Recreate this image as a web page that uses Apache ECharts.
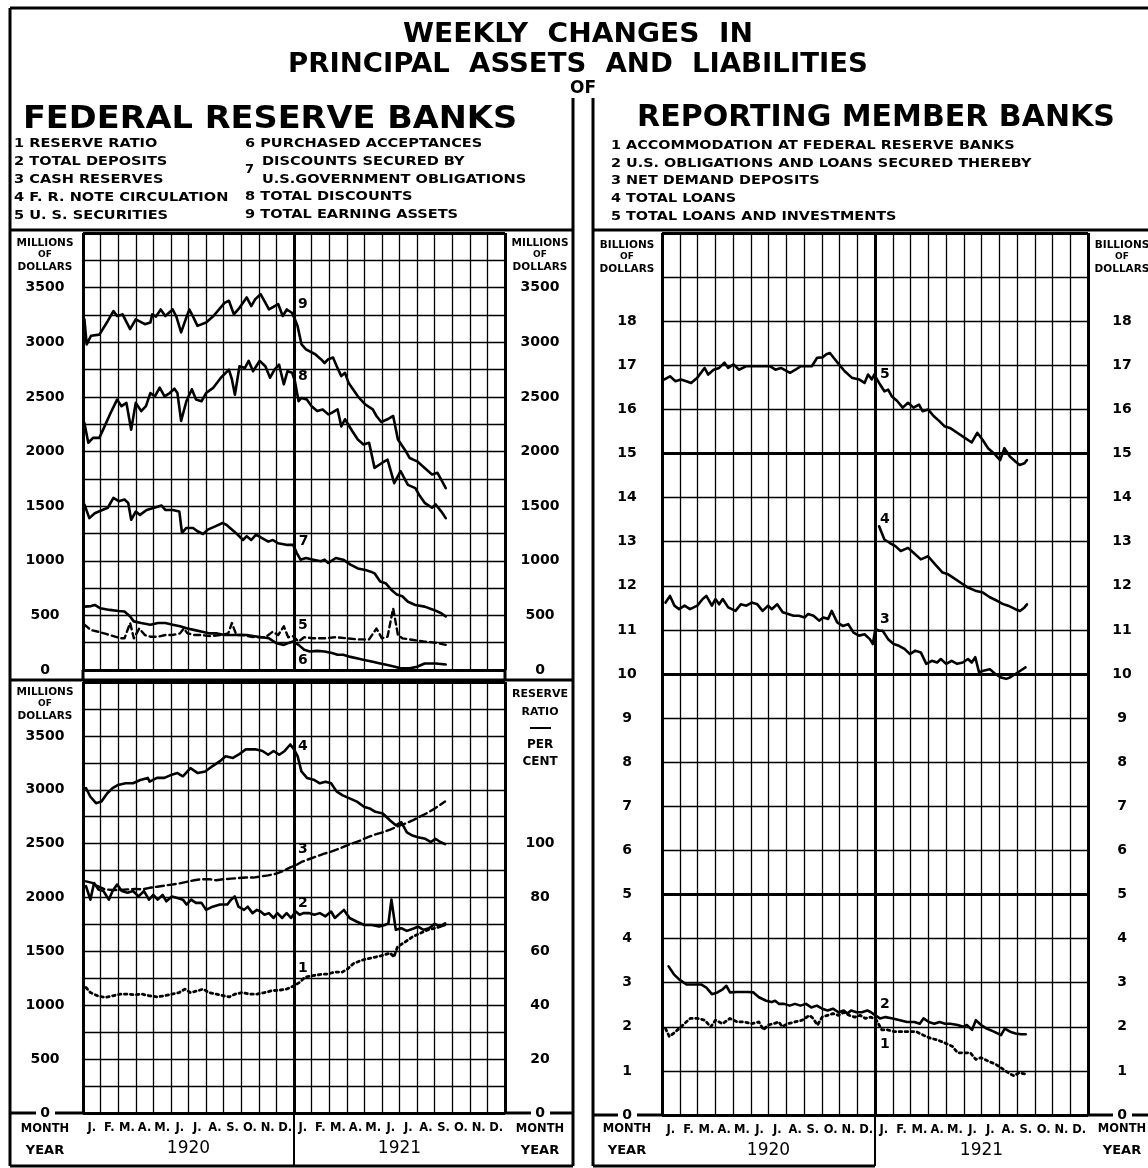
<!DOCTYPE html>
<html>
<head>
<meta charset="utf-8">
<script src="https://cdn.jsdelivr.net/npm/echarts@6/dist/echarts.min.js"></script>
<style>
  html, body { margin: 0; padding: 0; background: #fff; }
  #chart { width: 1148px; height: 1168px; }
</style>
</head>
<body>
<div id="chart"></div>
<script>
  // x = months since 1 Jan 1920 (weekly statements), y = value
  // Federal Reserve Banks, millions of dollars
  const frbEarningAssets = [[0.08,3210],[0.21,2980],[0.46,3060],[0.93,3070],[1.41,3195],[1.73,3285],[1.94,3240],[2.25,3255],[2.68,3120],[3.0,3210],[3.52,3165],[3.83,3180],[3.94,3255],[4.15,3235],[4.42,3300],[4.68,3240],[5.1,3300],[5.31,3235],[5.58,3090],[5.84,3210],[6.05,3300],[6.26,3235],[6.51,3150],[7.0,3180],[7.42,3240],[8.05,3360],[8.3,3380],[8.58,3255],[8.9,3315],[9.31,3410],[9.57,3330],[9.8,3395],[10.1,3440],[10.58,3300],[11.1,3350],[11.36,3240],[11.59,3300],[11.88,3270],[12.05,3210],[12.2,3150],[12.43,2980],[12.68,2935],[13.21,2890],[13.53,2845],[13.74,2810],[13.95,2845],[14.22,2860],[14.43,2780],[14.69,2690],[14.9,2720],[15.1,2630],[15.63,2505],[16.06,2430],[16.48,2385],[16.69,2325],[16.96,2270],[17.32,2295],[17.64,2325],[17.91,2110],[18.37,2000],[18.58,1940],[19.0,1910],[19.32,1865],[19.85,1790],[20.16,1805],[20.38,1740],[20.63,1665]];
  const frbTotalDiscounts = [[0.08,2260],[0.3,2080],[0.57,2125],[0.93,2125],[1.31,2260],[1.62,2370],[1.94,2475],[2.19,2415],[2.47,2445],[2.74,2200],[3.0,2445],[3.31,2370],[3.58,2415],[3.83,2535],[4.09,2505],[4.36,2585],[4.64,2505],[4.93,2535],[5.2,2575],[5.37,2535],[5.58,2280],[5.88,2460],[6.19,2570],[6.43,2475],[6.74,2460],[7.0,2535],[7.42,2585],[7.84,2675],[8.3,2750],[8.47,2660],[8.64,2520],[8.9,2780],[9.21,2765],[9.42,2830],[9.67,2735],[10.05,2830],[10.37,2780],[10.64,2675],[10.89,2750],[11.15,2795],[11.42,2615],[11.63,2735],[11.9,2720],[12.05,2645],[12.26,2460],[12.43,2490],[12.73,2475],[13.0,2415],[13.32,2370],[13.63,2385],[13.95,2340],[14.16,2355],[14.48,2385],[14.69,2230],[14.9,2295],[15.32,2185],[15.63,2110],[15.95,2065],[16.27,2080],[16.58,1850],[17.0,1895],[17.32,1925],[17.7,1710],[18.06,1820],[18.48,1695],[18.9,1665],[19.11,1605],[19.43,1530],[19.85,1485],[20.06,1515],[20.38,1450],[20.63,1390]];
  const frbGovtSecuredDiscounts = [[0.08,1515],[0.36,1390],[0.67,1435],[1.1,1465],[1.41,1485],[1.73,1575],[2.04,1545],[2.36,1560],[2.57,1530],[2.74,1375],[3.0,1450],[3.24,1420],[3.62,1465],[4.05,1485],[4.47,1505],[4.68,1465],[5.1,1465],[5.48,1450],[5.63,1255],[5.88,1300],[6.26,1300],[6.51,1270],[6.83,1245],[7.1,1285],[7.52,1315],[7.94,1345],[8.15,1330],[8.58,1270],[8.79,1240],[9.1,1190],[9.31,1225],[9.57,1190],[9.84,1240],[10.16,1210],[10.54,1175],[10.79,1190],[11.1,1160],[11.63,1145],[11.95,1145],[12.16,1070],[12.37,1010],[12.68,1025],[13.1,1010],[13.53,995],[13.74,1010],[13.95,980],[14.38,1025],[14.8,1010],[15.21,965],[15.63,930],[16.06,915],[16.37,900],[16.58,885],[16.9,810],[17.21,795],[17.53,735],[17.85,690],[18.16,675],[18.48,625],[18.9,595],[19.43,580],[19.95,550],[20.38,520],[20.63,490]];
  const frbAcceptances = [[0.08,580],[0.46,585],[0.67,595],[0.99,565],[1.52,550],[2.04,540],[2.36,535],[2.68,490],[2.89,445],[3.31,430],[3.83,415],[4.26,430],[4.68,430],[5.1,415],[5.52,400],[5.94,380],[6.36,365],[6.78,350],[7.21,335],[7.63,335],[8.05,320],[8.47,320],[8.89,320],[9.31,320],[9.95,305],[10.58,290],[11.0,245],[11.42,230],[11.63,245],[11.95,260],[12.26,230],[12.58,185],[12.9,170],[13.32,175],[13.74,170],[14.16,155],[14.48,140],[14.8,140],[15.21,120],[15.63,105],[16.06,90],[16.48,75],[16.9,60],[17.32,45],[17.74,30],[18.06,15],[18.58,15],[19.0,30],[19.43,60],[20.06,60],[20.63,50]];
  const frbUsSecurities = [[0.08,415],[0.46,365],[0.88,350],[1.31,330],[1.73,310],[2.15,290],[2.36,290],[2.68,430],[2.89,290],[3.2,380],[3.52,320],[3.83,305],[4.26,305],[4.68,320],[5.1,320],[5.52,335],[5.73,380],[5.94,335],[6.36,320],[6.78,320],[7.21,310],[7.84,320],[8.26,335],[8.47,430],[8.72,320],[9.1,320],[9.52,305],[9.95,300],[10.37,300],[10.79,350],[11.1,320],[11.42,400],[11.67,300],[11.95,310],[12.26,260],[12.58,300],[13.1,290],[13.74,290],[14.38,300],[15.0,290],[15.63,280],[16.27,280],[16.69,380],[17.0,290],[17.32,305],[17.64,565],[17.91,320],[18.16,290],[18.8,275],[19.43,260],[20.06,250],[20.63,230]];
  const frbNoteCirculation = [[0.17,3015],[0.42,2935],[0.74,2875],[1.05,2890],[1.37,2965],[1.68,3015],[2.0,3045],[2.42,3060],[2.84,3060],[3.26,3090],[3.68,3110],[3.79,3075],[4.21,3110],[4.63,3110],[5.05,3140],[5.37,3155],[5.68,3125],[6.11,3200],[6.53,3155],[6.95,3170],[7.37,3220],[7.79,3265],[8.11,3310],[8.53,3295],[8.84,3325],[9.26,3375],[9.79,3375],[10.21,3360],[10.53,3325],[10.84,3360],[11.16,3325],[11.47,3360],[11.79,3420],[12.0,3375],[12.21,3310],[12.42,3170],[12.74,3110],[13.16,3090],[13.47,3060],[13.79,3075],[14.11,3060],[14.42,2985],[14.74,2950],[15.16,2920],[15.58,2890],[16.0,2840],[16.32,2825],[16.63,2795],[17.05,2780],[17.47,2715],[17.79,2670],[18.1,2700],[18.42,2605],[18.74,2575],[19.05,2560],[19.47,2545],[19.79,2515],[20.04,2545],[20.32,2515],[20.59,2495]];
  const frbCashReserves = [[0.17,2150],[0.53,2135],[0.84,2105],[1.26,2075],[1.68,2070],[2.11,2070],[2.53,2075],[2.95,2080],[3.37,2075],[3.79,2090],[4.21,2100],[4.63,2110],[5.05,2120],[5.47,2130],[5.89,2145],[6.32,2160],[6.74,2170],[7.16,2170],[7.58,2160],[8.0,2170],[8.42,2175],[8.84,2180],[9.26,2185],[9.68,2185],[10.1,2195],[10.53,2205],[10.95,2220],[11.37,2245],[11.79,2280],[12.11,2300],[12.42,2330],[12.84,2355],[13.26,2380],[13.68,2405],[14.11,2425],[14.53,2450],[14.95,2480],[15.37,2505],[15.79,2530],[16.21,2560],[16.63,2585],[17.05,2605],[17.47,2630],[17.89,2660],[18.32,2685],[18.74,2715],[19.16,2750],[19.58,2785],[20.0,2825],[20.59,2890]];
  const frbTotalDeposits = [[0.17,2105],[0.42,1980],[0.63,2135],[0.88,2075],[1.16,2060],[1.47,1980],[1.68,2060],[1.94,2120],[2.21,2060],[2.53,2045],[2.84,2060],[3.16,2010],[3.47,2060],[3.75,1980],[4.0,2025],[4.25,1980],[4.53,2025],[4.74,1965],[5.05,2010],[5.37,1995],[5.68,1980],[5.89,1935],[6.15,1980],[6.42,1950],[6.74,1950],[7.0,1885],[7.37,1915],[7.79,1935],[8.21,1935],[8.42,1980],[8.63,2010],[8.84,1915],[9.16,1885],[9.37,1915],[9.64,1855],[9.89,1885],[10.1,1870],[10.32,1840],[10.57,1855],[10.84,1810],[11.05,1855],[11.33,1810],[11.58,1855],[11.83,1810],[12.1,1870],[12.32,1840],[12.53,1855],[12.84,1855],[13.16,1840],[13.47,1855],[13.79,1825],[14.11,1870],[14.32,1810],[14.63,1855],[14.84,1885],[15.16,1810],[15.58,1775],[16.0,1745],[16.42,1745],[16.84,1730],[17.16,1745],[17.37,1760],[17.54,1980],[17.79,1700],[18.1,1715],[18.42,1690],[18.84,1715],[19.05,1730],[19.37,1700],[19.68,1715],[20.0,1755],[20.32,1730],[20.59,1745]];
  // reserve ratio, per cent
  const frbReserveRatio = [[0.17,46.6],[0.42,44.7],[0.84,43.5],[1.26,42.9],[1.68,43.5],[2.11,44.1],[2.53,44.1],[2.95,43.9],[3.37,44.1],[3.79,43.5],[4.21,43.1],[4.63,43.5],[5.05,44.1],[5.47,44.7],[5.79,46.0],[6.11,44.7],[6.53,45.4],[6.84,46.0],[7.16,44.7],[7.58,44.1],[8.0,43.5],[8.32,43.1],[8.63,44.1],[9.05,44.7],[9.47,44.1],[9.89,44.1],[10.32,44.7],[10.74,45.4],[11.16,45.6],[11.58,46.0],[12.0,47.2],[12.32,48.5],[12.63,50.4],[13.05,51.0],[13.47,51.4],[13.89,51.6],[14.32,52.3],[14.74,52.3],[15.05,53.5],[15.37,55.4],[15.79,56.6],[16.21,57.3],[16.63,57.9],[17.05,58.5],[17.47,59.4],[17.68,57.9],[17.89,61.7],[18.32,63.5],[18.74,65.4],[19.16,66.7],[19.58,67.9],[20.0,68.6],[20.32,69.2],[20.59,70.4]];

  // Reporting member banks, billions of dollars
  const rmbLoansInvestments = [[0.14,16.68],[0.45,16.75],[0.76,16.64],[1.06,16.68],[1.37,16.64],[1.64,16.6],[1.99,16.72],[2.4,16.94],[2.6,16.79],[2.91,16.9],[3.22,16.94],[3.52,17.06],[3.73,16.94],[4.03,17.02],[4.34,16.9],[4.75,16.98],[5.16,16.98],[5.57,16.98],[6.08,16.98],[6.39,16.9],[6.7,16.94],[7.21,16.83],[7.52,16.9],[7.82,16.98],[8.44,16.98],[8.74,17.17],[9.05,17.18],[9.26,17.25],[9.46,17.28],[9.67,17.17],[9.97,17.02],[10.28,16.87],[10.69,16.72],[11.1,16.68],[11.41,16.6],[11.61,16.79],[11.82,16.68],[11.96,16.79],[12.23,16.6],[12.53,16.41],[12.74,16.45],[12.94,16.3],[13.25,16.19],[13.56,16.04],[13.86,16.15],[14.17,16.04],[14.48,16.11],[14.68,15.96],[14.99,16.0],[15.3,15.85],[15.61,15.74],[15.91,15.62],[16.22,15.58],[16.63,15.47],[17.04,15.36],[17.45,15.25],[17.76,15.47],[18.06,15.31],[18.37,15.12],[18.78,14.97],[19.05,14.85],[19.29,15.12],[19.6,14.93],[19.91,14.82],[20.15,14.74],[20.42,14.78],[20.56,14.85]];
  const rmbTotalLoans = [[12.23,13.35],[12.53,13.05],[12.84,12.97],[13.15,12.9],[13.45,12.79],[13.86,12.86],[14.17,12.75],[14.58,12.6],[14.99,12.67],[15.4,12.48],[15.81,12.3],[16.12,12.26],[16.42,12.18],[16.83,12.07],[17.24,11.96],[17.65,11.89],[18.06,11.85],[18.47,11.74],[18.88,11.66],[19.19,11.59],[19.5,11.55],[19.91,11.47],[20.17,11.43],[20.42,11.51],[20.56,11.58]];
  const rmbNetDemandDeposits = [[0.2,11.62],[0.45,11.77],[0.7,11.55],[0.96,11.47],[1.27,11.55],[1.58,11.47],[1.99,11.55],[2.29,11.7],[2.5,11.77],[2.81,11.55],[3.01,11.7],[3.22,11.58],[3.42,11.7],[3.73,11.51],[4.14,11.43],[4.44,11.58],[4.75,11.55],[5.06,11.62],[5.37,11.58],[5.67,11.43],[5.98,11.55],[6.18,11.47],[6.49,11.58],[6.8,11.4],[7.11,11.36],[7.41,11.32],[7.72,11.32],[8.03,11.28],[8.23,11.36],[8.54,11.32],[8.85,11.21],[9.09,11.28],[9.36,11.25],[9.56,11.43],[9.87,11.17],[10.18,11.09],[10.49,11.13],[10.79,10.94],[11.1,10.87],[11.41,10.9],[11.71,10.79],[11.88,10.68],[12.02,11.02],[12.23,10.98],[12.43,10.98],[12.74,10.79],[13.05,10.68],[13.35,10.64],[13.66,10.57],[13.97,10.45],[14.27,10.53],[14.58,10.49],[14.89,10.23],[15.2,10.3],[15.5,10.26],[15.71,10.34],[16.01,10.23],[16.32,10.3],[16.63,10.23],[16.94,10.26],[17.24,10.34],[17.45,10.26],[17.65,10.38],[17.86,10.04],[18.16,10.08],[18.47,10.11],[18.78,10.0],[19.09,9.92],[19.39,9.89],[19.6,9.92],[19.91,10.0],[20.21,10.08],[20.48,10.15]];
  const rmbUsObligations = [[0.37,3.37],[0.67,3.19],[0.98,3.07],[1.38,2.96],[1.79,2.96],[2.2,2.96],[2.5,2.89],[2.81,2.74],[3.12,2.78],[3.42,2.85],[3.63,2.93],[3.83,2.78],[4.24,2.79],[4.85,2.79],[5.15,2.78],[5.46,2.67],[5.87,2.59],[6.17,2.56],[6.37,2.59],[6.58,2.52],[6.88,2.52],[7.19,2.48],[7.49,2.52],[7.8,2.48],[8.11,2.52],[8.41,2.44],[8.72,2.48],[9.02,2.41],[9.33,2.37],[9.63,2.41],[9.94,2.33],[10.24,2.37],[10.45,2.3],[10.65,2.37],[10.96,2.33],[11.26,2.33],[11.57,2.37],[11.77,2.33],[12.02,2.26],[12.28,2.19],[12.59,2.22],[13.0,2.19],[13.4,2.15],[13.81,2.11],[14.22,2.11],[14.52,2.07],[14.73,2.19],[15.03,2.11],[15.34,2.07],[15.64,2.11],[15.95,2.07],[16.25,2.07],[16.66,2.04],[16.97,2.0],[17.17,2.04],[17.47,1.93],[17.68,2.15],[17.98,2.04],[18.29,1.96],[18.7,1.89],[19.1,1.81],[19.31,1.96],[19.61,1.89],[19.92,1.85],[20.22,1.83],[20.49,1.83]];
  const rmbAccommodation = [[0.2,1.96],[0.41,1.78],[0.77,1.89],[1.18,2.04],[1.59,2.19],[2.0,2.19],[2.4,2.15],[2.75,2.0],[3.01,2.15],[3.42,2.07],[3.83,2.19],[4.24,2.11],[4.64,2.11],[5.05,2.07],[5.46,2.11],[5.72,1.93],[5.97,2.04],[6.27,2.07],[6.58,2.11],[6.78,2.0],[7.09,2.07],[7.49,2.11],[7.9,2.15],[8.31,2.26],[8.51,2.19],[8.76,2.04],[9.02,2.22],[9.33,2.26],[9.63,2.3],[9.94,2.26],[10.24,2.33],[10.55,2.26],[10.86,2.22],[11.16,2.26],[11.47,2.19],[11.77,2.22],[12.08,2.15],[12.38,1.93],[12.69,1.93],[13.1,1.89],[13.5,1.89],[13.91,1.89],[14.32,1.89],[14.73,1.81],[15.13,1.74],[15.54,1.7],[15.95,1.63],[16.35,1.56],[16.66,1.41],[17.07,1.41],[17.37,1.41],[17.68,1.26],[17.98,1.3],[18.39,1.22],[18.8,1.15],[19.21,1.04],[19.61,0.93],[19.82,0.89],[20.13,0.96],[20.43,0.93]];

  // curve numbers written next to the lines: [month, value, number]
  const frbTopTags = [[12.5,3350,'9'],[12.5,2690,'8'],[12.55,1180,'7'],[12.5,410,'5'],[12.5,90,'6']];
  const frbLowTags = [[12.5,3400,'4'],[12.5,2450,'3'],[12.5,1950,'2'],[12.5,1340,'1']];
  const rmbTags = [[12.55,16.8,'5'],[12.55,13.5,'4'],[12.55,11.25,'3'],[12.55,2.5,'2'],[12.55,1.6,'1']];

  const monthLabels = ['J.','F.','M.','A.','M.','J.','J.','A.','S.','O.','N.','D.',
                       'J.','F.','M.','A.','M.','J.','J.','A.','S.','O.','N.','D.'];
  const yearLabels = ['1920', '1921'];

  const frbKeyLeft = ['1 RESERVE RATIO', '2 TOTAL DEPOSITS', '3 CASH RESERVES', '4 F. R. NOTE CIRCULATION', '5 U. S. SECURITIES'];
  const frbKeyRight = ['6 PURCHASED ACCEPTANCES', 'DISCOUNTS SECURED BY', 'U.S.GOVERNMENT OBLIGATIONS', '8 TOTAL DISCOUNTS', '9 TOTAL EARNING ASSETS'];
  const rmbKey = ['1 ACCOMMODATION AT FEDERAL RESERVE BANKS', '2 U.S. OBLIGATIONS AND LOANS SECURED THEREBY',
                  '3 NET DEMAND DEPOSITS', '4 TOTAL LOANS', '5 TOTAL LOANS AND INVESTMENTS'];

  const FONT = 'DejaVu Sans';
  const INK = '#000';

  const chart = echarts.init(document.getElementById('chart'), null, { renderer: 'canvas' });

  const labelStyle = { color: INK, fontFamily: FONT, fontWeight: 'bold', fontSize: 14 };

  function monthAxis(grid, interval, width) {
    return {
      type: 'value', gridIndex: grid, min: 0, max: 24, interval: interval,
      axisLine: { show: false }, axisTick: { show: false }, axisLabel: { show: false },
      splitLine: { show: true, lineStyle: { color: INK, width: width } }
    };
  }
  function catAxis(grid, data, margin, size, weight) {
    return {
      type: 'category', gridIndex: grid, data: data, position: 'bottom', boundaryGap: true,
      axisLine: { show: false }, axisTick: { show: false }, splitLine: { show: false },
      axisLabel: { interval: 0, margin: margin, color: INK, fontFamily: FONT, fontSize: size, fontWeight: weight }
    };
  }
  function valAxis(grid, pos, max, interval, margin, fmt, split) {
    return {
      type: 'value', gridIndex: grid, position: pos, min: 0, max: max, interval: interval,
      axisLine: { show: false }, axisTick: { show: false },
      axisLabel: Object.assign({ margin: margin, align: 'center', formatter: fmt,
                                 backgroundColor: '#fff', padding: [0, 2] }, labelStyle),
      splitLine: { show: split, lineStyle: { color: INK, width: 1.3 } }
    };
  }
  function heavyY(grid, max, interval) {
    return {
      type: 'value', gridIndex: grid, min: 0, max: max, interval: interval, position: 'left',
      axisLine: { show: false }, axisTick: { show: false }, axisLabel: { show: false },
      splitLine: { show: true, lineStyle: { color: INK, width: 3 } }
    };
  }
  const fmtMillions = v => (v % 500 === 0 && v <= 3500) ? String(v) : '';
  const fmtRatio = v => (v % 20 === 0 && v <= 100) ? String(v) : '';
  const fmtBillions = v => (v <= 18) ? String(v) : '';

  function line(data, xi, yi, dash, width) {
    return {
      type: 'line', data: data, xAxisIndex: xi, yAxisIndex: yi,
      symbol: 'none', smooth: false, silent: true, z: 5,
      lineStyle: { color: INK, width: width || 2.6, type: dash || 'solid', cap: 'round', join: 'round' }
    };
  }
  function tags(data, xi, yi) {
    return {
      type: 'scatter', data: data, xAxisIndex: xi, yAxisIndex: yi, symbolSize: 0, z: 6, silent: true,
      itemStyle: { color: '#fff' },
      label: { show: true, position: 'inside', formatter: p => p.data[2], opacity: 1,
               color: INK, textBorderWidth: 0, fontFamily: FONT, fontWeight: 'bold', fontSize: 14 }
    };
  }

  // ---- decorations (frame, headings, column captions) ----
  const g = [];
  function seg(x1, y1, x2, y2, w) {
    g.push({ type: 'line', z: 20, shape: { x1: x1, y1: y1, x2: x2, y2: y2 }, style: { stroke: INK, lineWidth: w || 3 } });
  }
  function txt(x, y, s, size, align, weight, sx) {
    g.push({ type: 'text', z: 20, x: x, y: y, scaleX: sx || 1,
      style: { text: s, x: 0, y: 0, fill: INK, font: (weight || 'bold') + ' ' + size + 'px "' + FONT + '"',
               textAlign: align || 'center', textVerticalAlign: 'middle' } });
  }
  seg(10, 8, 1148, 8);
  seg(10, 8, 10, 1166);
  seg(10, 1166, 573, 1166);
  seg(593, 1166, 875, 1166);
  seg(573, 98, 573, 1166);
  seg(593, 98, 593, 1166);
  seg(10, 230, 573, 230);
  seg(593, 230, 1148, 230);
  seg(10, 680, 573, 680);
  seg(83, 670, 83, 680); seg(505, 670, 505, 680);
  // zero line carried through the caption columns
  seg(10, 1113, 36, 1113); seg(55, 1113, 83, 1113);
  seg(505, 1113, 531, 1113); seg(550, 1113, 573, 1113);
  seg(593, 1115, 618, 1115); seg(637, 1115, 662, 1115);
  seg(1088, 1115, 1113, 1115); seg(1132, 1115, 1148, 1115);
  seg(294, 1113, 294, 1166, 2); seg(875, 1115, 875, 1166, 2);

  txt(578, 35, 'WEEKLY  CHANGES  IN', 26, 'center', 'bold', 1.08);
  txt(578, 65, 'PRINCIPAL  ASSETS  AND  LIABILITIES', 26, 'center', 'bold', 1.06);
  txt(583, 89, 'OF', 17);
  txt(270, 120, 'FEDERAL RESERVE BANKS', 32, 'center', 'bold', 1.05);
  txt(876, 118, 'REPORTING MEMBER BANKS', 30, 'center', 'bold', 1.0);

  frbKeyLeft.forEach((s, i) => txt(14, 144 + i * 17.8, s, 13, 'left', 'bold', 1.12));
  txt(245, 144, frbKeyRight[0], 13, 'left', 'bold', 1.12);
  txt(245, 170, '7', 13, 'left');
  txt(262, 162, frbKeyRight[1], 13, 'left', 'bold', 1.12);
  txt(262, 180, frbKeyRight[2], 13, 'left', 'bold', 1.12);
  txt(245, 197, frbKeyRight[3], 13, 'left', 'bold', 1.12);
  txt(245, 215, frbKeyRight[4], 13, 'left', 'bold', 1.12);
  rmbKey.forEach((s, i) => txt(611, 146 + i * 17.6, s, 12, 'left', 'bold', 1.2));

  [[45, 243], [540, 243]].forEach(([x, y]) => {
    txt(x, y, 'MILLIONS', 10.5); txt(x, y + 12, 'OF', 9); txt(x, y + 24, 'DOLLARS', 10.5);
  });
  txt(45, 692, 'MILLIONS', 10.5); txt(45, 704, 'OF', 9); txt(45, 716, 'DOLLARS', 10.5);
  txt(540, 694, 'RESERVE', 11); txt(540, 712, 'RATIO', 11);
  seg(530, 728, 551, 728, 2);
  txt(540, 745, 'PER', 12); txt(540, 762, 'CENT', 12);
  [[627, 245], [1122, 245]].forEach(([x, y]) => {
    txt(x, y, 'BILLIONS', 10.5); txt(x, y + 12, 'OF', 9); txt(x, y + 24, 'DOLLARS', 10.5);
  });
  [[45, 540], [627, 1122]].forEach(([a, b]) => {
    txt(a, 1129, 'MONTH', 11.5); txt(a, 1151, 'YEAR', 13);
    txt(b, 1129, 'MONTH', 11.5); txt(b, 1151, 'YEAR', 13);
  });

  const option = {
    animation: false,
    backgroundColor: '#fff',
    grid: [
      { left: 83, top: 233, width: 422, height: 437 },
      { left: 83, top: 682, width: 422, height: 431 },
      { left: 662, top: 233, width: 426, height: 882 }
    ],
    xAxis: [
      monthAxis(0, 1, 1.3), monthAxis(0, 12, 3),
      monthAxis(1, 1, 1.3), monthAxis(1, 12, 3),
      catAxis(1, monthLabels, 9, 11.5, 'bold'), catAxis(1, yearLabels, 27, 17, 'normal'),
      monthAxis(2, 1, 1.3), monthAxis(2, 12, 3),
      catAxis(2, monthLabels, 9, 11.5, 'bold'), catAxis(2, yearLabels, 27, 17, 'normal')
    ],
    yAxis: [
      valAxis(0, 'left', 4000, 250, 38, fmtMillions, true),
      valAxis(0, 'right', 4000, 250, 35, fmtMillions, false),
      valAxis(1, 'left', 4000, 250, 38, fmtMillions, true),
      valAxis(1, 'right', 160, 10, 35, fmtRatio, false),
      valAxis(2, 'left', 20, 1, 35, fmtBillions, true),
      valAxis(2, 'right', 20, 1, 34, fmtBillions, false),
      heavyY(2, 20, 5),
      heavyY(0, 4000, 4000),
      heavyY(1, 4000, 4000)
    ],
    series: [
      line(frbEarningAssets, 0, 0),
      line(frbTotalDiscounts, 0, 0),
      line(frbGovtSecuredDiscounts, 0, 0),
      line(frbAcceptances, 0, 0),
      line(frbUsSecurities, 0, 0, [6, 4], 2.4),
      tags(frbTopTags, 0, 0),
      line(frbNoteCirculation, 2, 2),
      line(frbCashReserves, 2, 2, [8, 4], 2.4),
      line(frbTotalDeposits, 2, 2),
      line(frbReserveRatio, 2, 3, [2.5, 3.5], 2.8),
      tags(frbLowTags, 2, 2),
      line(rmbLoansInvestments, 6, 4),
      line(rmbTotalLoans, 6, 4),
      line(rmbNetDemandDeposits, 6, 4),
      line(rmbUsObligations, 6, 4),
      line(rmbAccommodation, 6, 4, [2.5, 3.5], 2.8),
      tags(rmbTags, 6, 4)
    ],
    graphic: g
  };
  chart.setOption(option);
</script>
</body>
</html>
